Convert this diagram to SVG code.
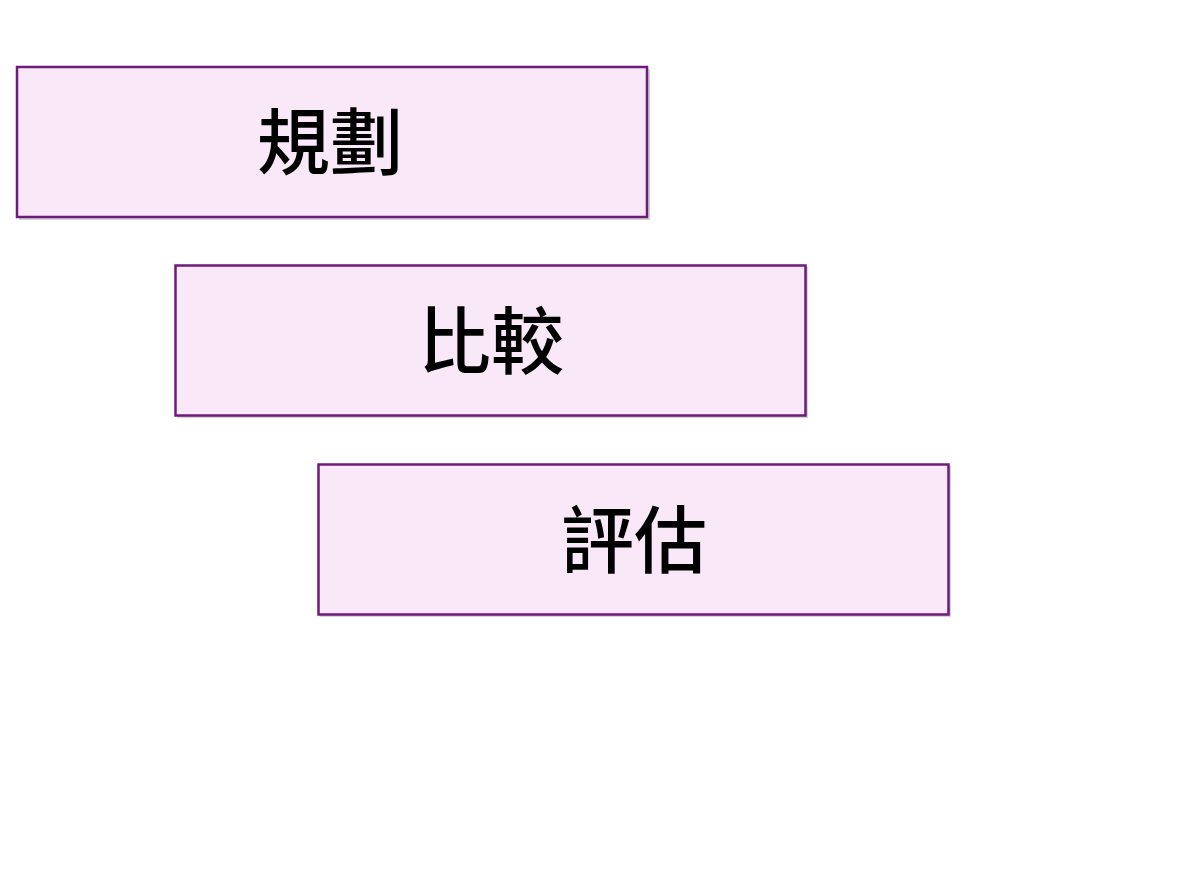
<svg xmlns="http://www.w3.org/2000/svg" width="1193" height="896" viewBox="0 0 1193 896">
<style>
.box{fill:#f8e8f8;stroke:#6c1a7c;stroke-width:2.5}
.sh{fill:#a0a0a0;opacity:0.45}
.lbl{font-family:"Noto Sans CJK TC","Noto Sans CJK SC",sans-serif;font-size:73px;font-weight:500;fill:#000;text-anchor:middle;dominant-baseline:central}
</style>
<rect width="1193" height="896" fill="#ffffff"/>
<g id="connectors"></g>
<g id="node-plan">
<rect class="sh" x="19" y="69" width="631" height="151"/>
<rect class="box" x="17" y="67" width="630" height="150"/>
<text class="lbl" x="330" y="137">規劃</text>
</g>
<g id="node-compare">
<rect class="sh" x="177" y="267" width="631" height="151"/>
<rect class="box" x="175.5" y="265.5" width="630" height="150"/>
<text class="lbl" x="491" y="336">比較</text>
</g>
<g id="node-evaluate">
<rect class="sh" x="320" y="466" width="631" height="151"/>
<rect class="box" x="318.5" y="464.5" width="630" height="150"/>
<text class="lbl" x="634" y="535">評估</text>
</g>
</svg>
